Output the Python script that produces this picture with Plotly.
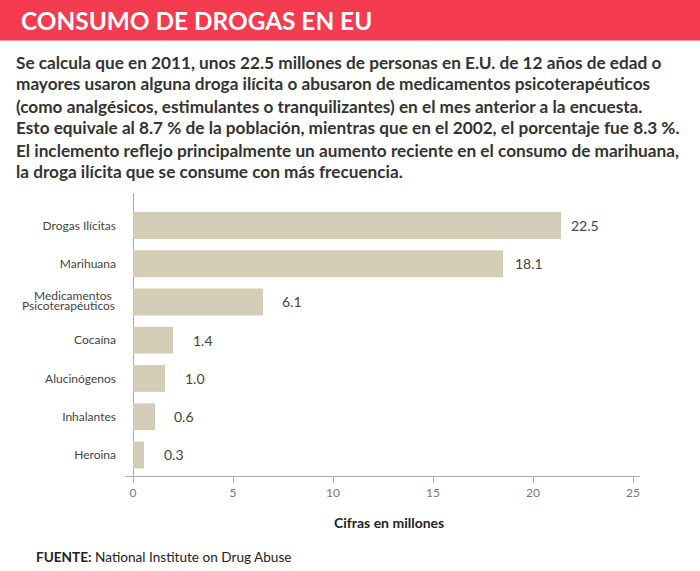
import plotly.graph_objects as go

# ---- data ----
categories = ["Drogas Ilícitas", "Marihuana", "Medicamentos Psicoterapéuticos",
              "Cocaína", "Alucinógenos", "Inhalantes", "Heroina"]
tick_labels = ["Drogas Ilícitas", "Marihuana", "", "Cocaína", "Alucinógenos", "Inhalantes", "Heroina"]
split_label = ["Medicamentos ", "Psicoterapéuticos"]
bar_lengths = [21.4, 18.5, 6.5, 2.0, 1.6, 1.1, 0.55]   # drawn bar lengths
value_labels = ["22.5", "18.1", "6.1", "1.4", "1.0", "0.6", "0.3"]
x_ticks = [0, 5, 10, 15, 20, 25]

title_text = "CONSUMO DE DROGAS EN EU"
paragraph_lines = [
    "Se calcula que en 2011, unos 22.5 millones de personas en E.U. de 12 años de edad o",
    "mayores usaron alguna droga ilícita o abusaron de medicamentos psicoterapéuticos",
    "(como analgésicos, estimulantes o tranquilizantes) en el mes anterior a la encuesta.",
    "Esto equivale al 8.7 % de la población, mientras que en el 2002, el porcentaje fue 8.3 %.",
    "El inclemento reflejo principalmente un aumento reciente en el consumo de marihuana,",
    "la droga ilícita que se consume con más frecuencia.",
]
axis_title = "Cifras en millones"
source_bold = "FUENTE:"
source_text = "National Institute on Drug Abuse"

# ---- layout geometry (styling only) ----
W, H = 700, 571
ML, MR, MT, MB = 125, 60, 193, 95
PW = W - ML - MR
PH = H - MT - MB
label_pad = [8, 10, 17, 18, 18, 17, 18]

def px(x):
    return (x - ML) / PW

def py(y):
    return (H - MB - y) / PH

FONT = "Lato, 'Open Sans', sans-serif"
BAR_COLOR = "#D3CCB6"
RED = "#F43B4F"

fig = go.Figure()
fig.add_trace(go.Bar(
    x=bar_lengths, y=categories, orientation="h",
    marker=dict(color=BAR_COLOR, line=dict(width=0)),
    width=0.7, hoverinfo="skip", showlegend=False,
))

annotations = []
for cat, L, lab, pad in zip(categories, bar_lengths, value_labels, label_pad):
    annotations.append(dict(x=L, y=cat, xref="x", yref="y", text=lab, showarrow=False,
                            xanchor="left", yanchor="middle", xshift=pad,
                            font=dict(family=FONT, size=14, color="#444444")))

for part, shift in zip(split_label, [6, -4]):
    annotations.append(dict(x=px(117), y=categories[2], xref="paper", yref="y", text=part,
                            showarrow=False, xanchor="right", yanchor="middle", yshift=shift,
                            font=dict(family=FONT, size=12, color="#444444")))

annotations.append(dict(x=px(19), y=py(21), xref="paper", yref="paper", text="<b>" + title_text + "</b>",
                        showarrow=False, xanchor="left", yanchor="middle",
                        font=dict(family=FONT, size=24.4, color="white")))

for i, line in enumerate(paragraph_lines):
    annotations.append(dict(x=px(14), y=py(62 + 22 * i), xref="paper", yref="paper",
                            text="<b>" + line + "</b>", showarrow=False,
                            xanchor="left", yanchor="middle",
                            font=dict(family=FONT, size=17.2, color="#333333")))

annotations.append(dict(x=px(389), y=py(522), xref="paper", yref="paper",
                        text="<b>" + axis_title + "</b>", showarrow=False,
                        xanchor="center", yanchor="middle",
                        font=dict(family=FONT, size=14, color="#222222")))

annotations.append(dict(x=px(34), y=py(557), xref="paper", yref="paper",
                        text="<b>" + source_bold + "</b> " + source_text, showarrow=False,
                        xanchor="left", yanchor="middle",
                        font=dict(family=FONT, size=13.6, color="#222222")))

shapes = [dict(type="rect", xref="paper", yref="paper", x0=px(0), x1=px(W), y0=py(40.5), y1=py(0),
               fillcolor=RED, line=dict(width=0), layer="below")]

fig.update_layout(
    width=W, height=H,
    margin=dict(l=ML, r=MR, t=MT, b=MB, pad=0),
    paper_bgcolor="white", plot_bgcolor="white",
    font=dict(family=FONT, color="#444444"),
    xaxis=dict(range=[-0.4, 25.35], tickvals=x_ticks, showgrid=False,
               showline=True, linecolor="#AAAAAA", linewidth=1,
               ticks="outside", ticklen=6, tickcolor="#AAAAAA",
               zeroline=True, zerolinecolor="#AAAAAA", zerolinewidth=1,
               tickfont=dict(family=FONT, size=12, color="#777777")),
    yaxis=dict(categoryorder="array", categoryarray=categories,
               tickvals=categories, ticktext=tick_labels,
               range=[6.55, -0.85], showgrid=False, zeroline=False, showline=False,
               ticks="", ticklabelstandoff=8,
               tickfont=dict(family=FONT, size=12, color="#444444")),
    annotations=annotations, shapes=shapes,
    bargap=0.3,
)

fig.write_html("out.html", config={"displayModeBar": False},
               post_script="document.body.style.margin='0';document.body.style.overflow='hidden';")
